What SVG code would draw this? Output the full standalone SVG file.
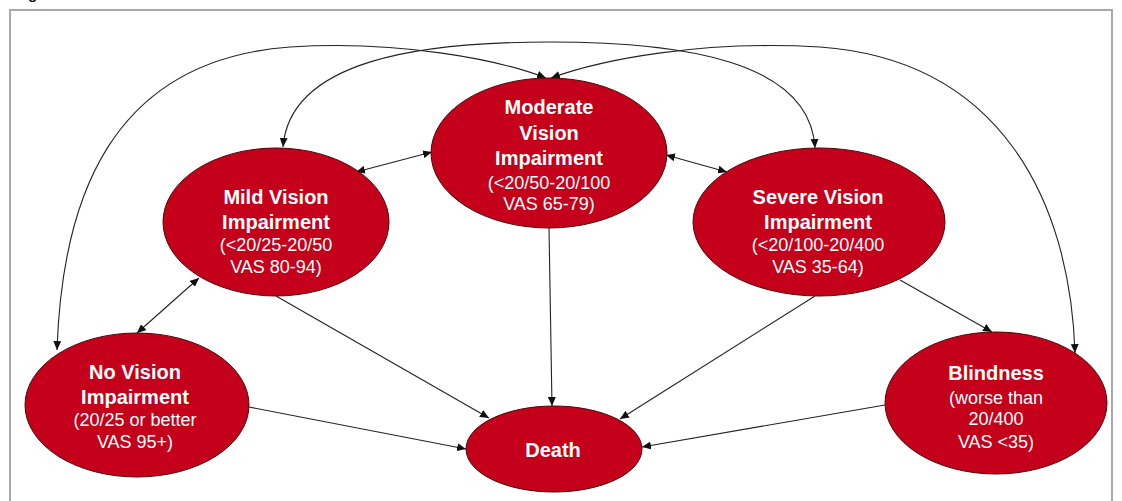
<svg xmlns="http://www.w3.org/2000/svg" width="1122" height="501" viewBox="0 0 1122 501">
<style>
.node{fill:#c5001a;stroke:#4a0a0a;stroke-width:1}
.t{font-family:"Liberation Sans",Arial,sans-serif;font-weight:bold;font-size:20px;fill:#fff;text-anchor:middle}
.s{font-family:"Liberation Sans",Arial,sans-serif;font-size:18px;fill:#fff;text-anchor:middle}
.c{fill:none;stroke:#222;stroke-width:1.1}
</style>
<defs>
<marker id="ah" markerUnits="userSpaceOnUse" markerWidth="9" markerHeight="8" refX="9" refY="4" orient="auto-start-reverse" viewBox="0 0 9 8">
<path d="M0,0 L9,4 L0,8 z" fill="#111"/>
</marker>
</defs>
<rect x="0" y="0" width="1122" height="501" fill="#fff"/>
<text x="28" y="-1" font-family="Liberation Sans,Arial,sans-serif" font-weight="bold" font-size="15" fill="#111">g</text>
<rect x="10" y="10" width="1102" height="500" fill="none" stroke="#a8a8a8" stroke-width="2"/>
<g id="connectors">
<path class="c" d="M57,350 C62,200 110,60 290,47 C400,40 500,60 546,78" marker-start="url(#ah)" marker-end="url(#ah)"/>
<path class="c" d="M1075,353 C1070,200 1000,60 820,47 C700,40 600,60 551,78" marker-start="url(#ah)" marker-end="url(#ah)"/>
<path class="c" d="M283,147 C290,60 420,42 550,42 C680,42 810,60 815,148" marker-start="url(#ah)" marker-end="url(#ah)"/>
<line class="c" x1="356" y1="172" x2="432" y2="152" marker-start="url(#ah)" marker-end="url(#ah)"/>
<line class="c" x1="666" y1="155" x2="727" y2="172" marker-start="url(#ah)" marker-end="url(#ah)"/>
<line class="c" x1="137" y1="333" x2="199" y2="278" marker-start="url(#ah)" marker-end="url(#ah)"/>
<line class="c" x1="900" y1="280" x2="992" y2="332" marker-end="url(#ah)"/>
<line class="c" x1="276" y1="296" x2="489" y2="418" marker-end="url(#ah)"/>
<line class="c" x1="549" y1="228" x2="552" y2="406" marker-end="url(#ah)"/>
<line class="c" x1="815" y1="296" x2="620" y2="419" marker-end="url(#ah)"/>
<line class="c" x1="249" y1="407" x2="466" y2="449" marker-end="url(#ah)"/>
<line class="c" x1="885" y1="405" x2="642" y2="447" marker-end="url(#ah)"/>
</g>
<g id="moderate">
<ellipse class="node" cx="549" cy="153" rx="118" ry="75"/>
<text class="t" x="549" y="114">Moderate</text>
<text class="t" x="549" y="140">Vision</text>
<text class="t" x="549" y="165">Impairment</text>
<text class="s" x="549" y="189">(&lt;20/50-20/100</text>
<text class="s" x="549" y="210">VAS 65-79)</text>
</g>
<g id="mild">
<ellipse class="node" cx="276" cy="222" rx="113" ry="74"/>
<text class="t" x="276" y="204">Mild Vision</text>
<text class="t" x="276" y="229">Impairment</text>
<text class="s" x="276" y="251">(&lt;20/25-20/50</text>
<text class="s" x="276" y="273">VAS 80-94)</text>
</g>
<g id="severe">
<ellipse class="node" cx="819" cy="222" rx="126" ry="74"/>
<text class="t" x="818" y="204">Severe Vision</text>
<text class="t" x="818" y="229">Impairment</text>
<text class="s" x="818" y="251">(&lt;20/100-20/400</text>
<text class="s" x="818" y="273">VAS 35-64)</text>
</g>
<g id="novision">
<ellipse class="node" cx="137" cy="405" rx="112" ry="72"/>
<text class="t" x="135" y="379">No Vision</text>
<text class="t" x="135" y="404">Impairment</text>
<text class="s" x="135" y="426">(20/25 or better</text>
<text class="s" x="135" y="448">VAS 95+)</text>
</g>
<g id="blindness">
<ellipse class="node" cx="996" cy="403" rx="111" ry="71"/>
<text class="t" x="996" y="380">Blindness</text>
<text class="s" x="996" y="404">(worse than</text>
<text class="s" x="996" y="425">20/400</text>
<text class="s" x="996" y="448">VAS &lt;35)</text>
</g>
<g id="death">
<ellipse class="node" cx="554" cy="449" rx="88" ry="43"/>
<text class="t" x="553" y="457">Death</text>
</g>
</svg>
